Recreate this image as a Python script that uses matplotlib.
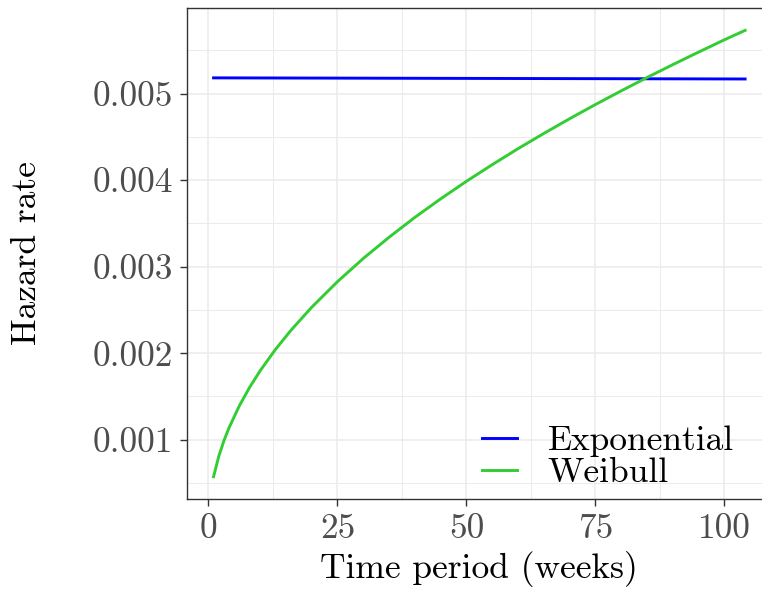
import matplotlib
matplotlib.use("Agg")
import matplotlib.pyplot as plt
import matplotlib.patches as patches
from matplotlib.ticker import MultipleLocator

plt.rcParams["font.family"] = ["cmr10", "DejaVu Serif"]
plt.rcParams["axes.formatter.use_mathtext"] = True

# ----------------------------------
# DATA
# ----------------------------------
exp_weeks = [1, 104]
exp_hazard = [0.005181, 0.005168]

weib_weeks = [1, 2, 3, 4, 6, 8, 10, 13, 16, 20, 25, 30, 35, 40, 45, 50,
              55, 60, 65, 70, 75, 80, 85, 90, 95, 100, 104]
weib_hazard = [0.000573, 0.000808, 0.000988, 0.001139, 0.001393, 0.001607,
               0.001795, 0.002044, 0.002265, 0.002530, 0.002826, 0.003094,
               0.003339, 0.003569, 0.003783, 0.003986, 0.004178, 0.004363,
               0.004539, 0.004709, 0.004873, 0.005031, 0.005185, 0.005334,
               0.005479, 0.005621, 0.005730]

x_ticks = [0, 25, 50, 75, 100]
y_ticks = [0.001, 0.002, 0.003, 0.004, 0.005]
y_tick_labels = ["0.001", "0.002", "0.003", "0.004", "0.005"]

COLOR_EXP = "#0000FF"
COLOR_WEIB = "#32CD32"
GRID = "#EBEBEB"
FS = 25.5

# -------------------------------
# FIGURE
# -------------------------------
fig = plt.figure(figsize=(7.62, 5.90), dpi=100)
ax = fig.add_axes([0.2454, 0.1542, 0.7673, 0.8322])

# ggplot-like limits (5% expansion)
xr = max(weib_weeks) - min(weib_weeks)
ax.set_xlim(min(weib_weeks) - 0.05 * xr, max(weib_weeks) + 0.05 * xr)
lo = min(weib_hazard + exp_hazard)
hi = max(weib_hazard + exp_hazard)
ax.set_ylim(lo - 0.05 * (hi - lo), hi + 0.05 * (hi - lo))

# grid
ax.set_axisbelow(True)
ax.xaxis.set_minor_locator(MultipleLocator(12.5))
ax.yaxis.set_minor_locator(MultipleLocator(0.0005))
ax.grid(which="major", color=GRID, linewidth=1.1)
ax.grid(which="minor", color=GRID, linewidth=0.7)
ax.tick_params(which="minor", length=0)

# white patch of the legend box that hides part of the grid
ax.add_patch(patches.Rectangle((0.3865, 0.01), 0.081, 0.16,
                               transform=ax.transAxes, facecolor="white",
                               edgecolor="none", zorder=0.5))

ax.plot(exp_weeks, exp_hazard, color=COLOR_EXP, linewidth=2.1,
        label="Exponential", zorder=3)
ax.plot(weib_weeks, weib_hazard, color=COLOR_WEIB, linewidth=2.1,
        label="Weibull", zorder=3)

ax.set_xticks(x_ticks)
ax.set_xticklabels([str(t) for t in x_ticks])
ax.set_yticks(y_ticks)
ax.set_yticklabels(y_tick_labels)
ax.tick_params(which="major", length=5, width=1.0, color="#333333",
               labelsize=FS, labelcolor="#4D4D4D", pad=5)

for s in ax.spines.values():
    s.set_color("#333333")
    s.set_linewidth(1.0)

ax.set_xlabel("Time period (weeks)", fontsize=FS, labelpad=5)
ax.set_ylabel("Hazard rate", fontsize=FS, labelpad=36)

ax.legend(loc="lower left", bbox_to_anchor=(0.5045, 0.020), frameon=False,
          fontsize=FS, handlelength=1.0, handletextpad=0.85,
          labelspacing=0.0, borderaxespad=0.0, borderpad=0.0)

fig.savefig("out.png", dpi=100)
